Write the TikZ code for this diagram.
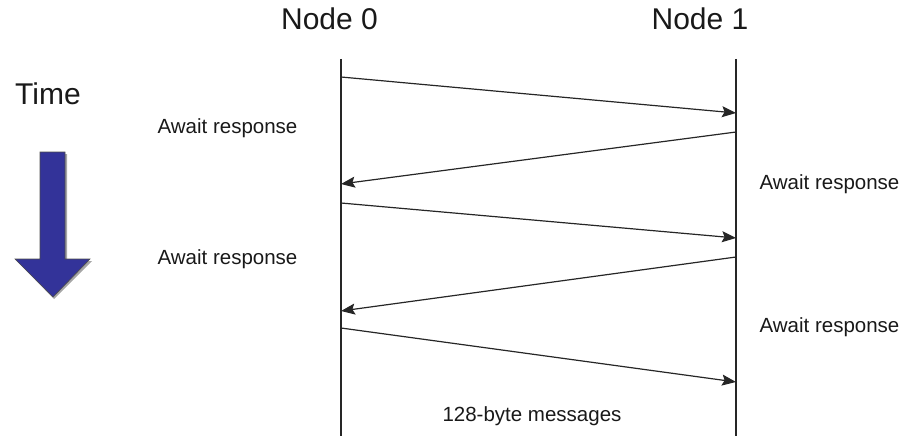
\documentclass[tikz,border=0pt]{standalone}
\usepackage{fontspec}
\setmainfont{Liberation Sans}
\usetikzlibrary{arrows.meta}
\definecolor{timeblue}{RGB}{51,51,153}
\tikzset{
  big/.style={font=\fontsize{30}{36}\selectfont, anchor=base, inner sep=0pt, text=black!90},
  small/.style={font=\fontsize{20.5}{24}\selectfont, anchor=base, inner sep=0pt, text=black!90},
  life/.style={line width=1.3pt, black!85},
  msg/.style={line width=1.2pt, black!85, -{Stealth[length=14pt,width=11pt,inset=2.5pt]}},
}
\begin{document}
\begin{tikzpicture}[x=1pt,y=-1pt]
\useasboundingbox (0,0) rectangle (906,436);
% titles
\node[big] (n0) at (329.5,30) {Node 0};
\node[big] (n1) at (700,30) {Node 1};
\node[big] (time) at (48,105) {Time};
% lifelines
\coordinate (l0t) at (341,59);
\coordinate (l0b) at (341,436);
\coordinate (l1t) at (736,59);
\coordinate (l1b) at (736,436);
\draw[life] (l0t) -- (l0b);
\draw[life] (l1t) -- (l1b);
% message endpoints
\coordinate (a1) at (341,77);  \coordinate (b1) at (736,113);
\coordinate (a2) at (736,132); \coordinate (b2) at (341,184);
\coordinate (a3) at (341,203); \coordinate (b3) at (736,238);
\coordinate (a4) at (736,257); \coordinate (b4) at (341,311);
\coordinate (a5) at (341,328); \coordinate (b5) at (736,382);
\draw[msg] (a1) -- (b1);
\draw[msg] (a2) -- (b2);
\draw[msg] (a3) -- (b3);
\draw[msg] (a4) -- (b4);
\draw[msg] (a5) -- (b5);
% labels
\node[small] (w1) at (227.5,134) {Await response};
\node[small] (w2) at (829.5,189) {Await response};
\node[small] (w3) at (227.5,264) {Await response};
\node[small] (w4) at (829.5,332) {Await response};
\node[small] (m) at (532,421) {128-byte messages};
% time arrow
\fill[black!35] (42,154) -- (67,154) -- (67,261) -- (92,261) -- (54,299) -- (17,261) -- (42,261) -- cycle;
\draw[fill=timeblue, draw=black!70, line width=0.6pt]
  (40,152) -- (65,152) -- (65,259) -- (90,259) -- (53,297) -- (15,259) -- (40,259) -- cycle;
\end{tikzpicture}
\end{document}
